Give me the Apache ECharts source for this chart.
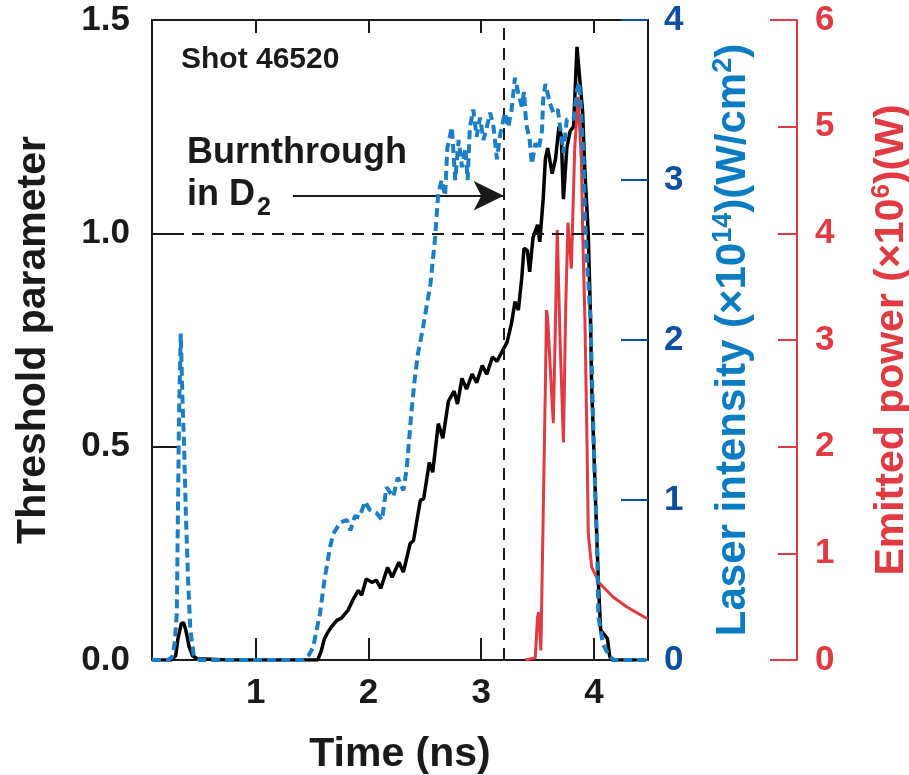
<!DOCTYPE html>
<html>
<head>
<meta charset="utf-8">
<script src="https://cdn.jsdelivr.net/npm/echarts@6/dist/echarts.min.js"></script>
<style>
  html, body { margin: 0; padding: 0; background: #fff; }
  #chart { width: 909px; height: 775px; }
</style>
</head>
<body>
<div id="chart"></div>
<script>
  // Threshold parameter (black, left axis)
  var threshTime = [0.08, 0.25, 0.29, 0.31, 0.34, 0.36, 0.38, 0.41, 0.44, 0.48, 0.6, 0.75, 1.2, 1.55, 1.58, 1.61, 1.64,
    1.67, 1.72, 1.76, 1.82, 1.86, 1.91, 1.94, 1.98, 2.03, 2.07, 2.11, 2.17, 2.21, 2.27, 2.31, 2.37, 2.40, 2.46, 2.49,
    2.54, 2.57, 2.62, 2.66, 2.71, 2.76, 2.79, 2.83, 2.87, 2.92, 2.96, 3.01, 3.05, 3.10, 3.14, 3.18, 3.23, 3.27, 3.30,
    3.33, 3.36, 3.38, 3.41, 3.43, 3.46, 3.50, 3.52, 3.55, 3.57, 3.59, 3.63, 3.66, 3.69, 3.71, 3.73, 3.76, 3.79, 3.82,
    3.85, 3.90, 3.92, 3.95, 3.97, 3.98, 4.01, 4.04, 4.06, 4.09, 4.12, 4.14, 4.16, 4.38];
  var threshValue = [0, 0, 0.01, 0.05, 0.085, 0.088, 0.07, 0.03, 0.01, 0.003, 0.002, 0, 0, 0, 0.02, 0.05, 0.065,
    0.077, 0.093, 0.098, 0.117, 0.14, 0.163, 0.152, 0.19, 0.182, 0.187, 0.168, 0.217, 0.194, 0.229, 0.206, 0.273, 0.28, 0.374, 0.378,
    0.463, 0.44, 0.554, 0.52, 0.607, 0.63, 0.6, 0.66, 0.635, 0.67, 0.65, 0.69, 0.67, 0.71, 0.70, 0.72, 0.745, 0.79, 0.84,
    0.82, 0.895, 0.965, 0.96, 0.91, 0.99, 1.02, 0.98, 1.08, 1.175, 1.2, 1.14, 1.175, 1.25, 1.23, 1.08, 1.2, 1.24, 1.25,
    1.437, 1.285, 1.145, 1.0, 0.8, 0.647, 0.41, 0.18, 0.07, 0.06, 0.05, 0.008, 0, 0];

  // Laser intensity (blue dotted, x1e14 W/cm2)
  var laserTime = [0.08, 0.22, 0.26, 0.28, 0.30, 0.31, 0.32, 0.335, 0.35, 0.365, 0.38, 0.40, 0.42, 0.45, 0.5, 1.42,
    1.47, 1.51, 1.57, 1.61, 1.66, 1.69, 1.75, 1.81, 1.84, 1.88, 1.92, 1.97, 2.01, 2.07, 2.12, 2.16, 2.22, 2.26, 2.31,
    2.34, 2.38, 2.41, 2.44, 2.48, 2.55, 2.59, 2.62, 2.65, 2.68, 2.70, 2.74, 2.77, 2.80, 2.83, 2.86, 2.88, 2.90, 2.93,
    2.96, 2.99, 3.02, 3.05, 3.08, 3.11, 3.14, 3.17, 3.21, 3.24, 3.27, 3.30, 3.33, 3.36, 3.38, 3.40, 3.43, 3.45, 3.48,
    3.51, 3.54, 3.55, 3.57, 3.61, 3.64, 3.68, 3.72, 3.73, 3.76, 3.79, 3.82, 3.85, 3.87, 3.89, 3.91, 3.92, 3.94, 3.97,
    4.0, 4.03, 4.04, 4.08, 4.14, 4.18, 4.48];
  var laserValue = [0, 0, 0.02, 0.1, 0.29, 0.92, 1.54, 2.04, 1.64, 1.33, 0.92, 0.5, 0.19, 0.03, 0, 0,
    0.03, 0.08, 0.29, 0.5, 0.71, 0.79, 0.86, 0.875, 0.81, 0.9, 0.89, 0.99, 0.94, 0.92, 0.875, 1.08, 1.02, 1.14, 1.06,
    1.2, 1.54, 1.75, 1.92, 2.06, 2.35, 2.63, 2.92, 3.0, 2.9, 3.2, 3.33, 3.0, 3.25, 3.08, 3.2, 3.0, 3.33, 3.44,
    3.27, 3.39, 3.25, 3.33, 3.42, 3.33, 3.13, 3.29, 3.42, 3.33, 3.44, 3.64, 3.54, 3.46, 3.55, 3.35, 3.25, 3.1, 3.23,
    3.19, 3.31, 3.5, 3.6, 3.48, 3.42, 3.44, 3.23, 3.17, 3.38, 3.38, 3.38, 3.56, 3.61, 3.39, 3.1, 2.79, 2.48, 2.14,
    1.31, 0.69, 0.27, 0.1, 0.02, 0, 0];

  // Emitted power (red, x1e6 W)
  var powerTime = [3.39, 3.48, 3.50, 3.51, 3.53, 3.55, 3.57, 3.58, 3.59, 3.62, 3.64, 3.66, 3.675, 3.70, 3.73, 3.75,
    3.77, 3.80, 3.83, 3.86, 3.89, 3.90, 3.92, 3.94, 3.95, 3.98, 4.05, 4.17, 4.29, 4.45, 4.48];
  var powerValue = [0, 0.02, 0.4, 0.45, 0.09, 1.34, 2.6, 3.28, 3.2, 2.6, 2.22, 3.21, 4.03, 3.0, 2.04, 3.3,
    4.1, 3.67, 4.8, 5.28, 4.66, 4.03, 3.21, 1.97, 1.19, 0.87, 0.72, 0.59, 0.5, 0.4, 0.39];

  var timeTicks = [1, 2, 3, 4];
  var burnthroughTime = 3.2;
  var thresholdLevel = 1.0;
  var arrowStart = [1.33, 1.088];

  function pairs(xs, ys) {
    return xs.map(function (x, i) { return [x, ys[i]]; });
  }

  var FONT = '"Liberation Sans", Arial, Helvetica, sans-serif';
  var BLACK = '#1a1a1a';
  var BLUE_LINE = '#1a7fc6';
  var BLUE_TITLE = '#0a7cc4';
  var BLUE_LABEL = '#0b4ea2';
  var RED = '#e23a40';

  var chart = echarts.init(document.getElementById('chart'), null, { renderer: 'canvas' });

  var option = {
    animation: false,
    backgroundColor: '#fff',
    grid: { left: 152, top: 20, width: 496, height: 640, containLabel: false, outerBoundsMode: 'none' },
    xAxis: [{
      type: 'value', min: 0.08, max: 4.48, position: 'bottom',
      axisLine: { show: true, lineStyle: { color: BLACK, width: 2 } },
      axisTick: { show: true, inside: true, length: 22, lineStyle: { color: BLACK, width: 2 }, customValues: timeTicks },
      axisLabel: { customValues: timeTicks, color: BLACK, fontSize: 35, fontWeight: 'bold', fontFamily: FONT, margin: 16 },
      splitLine: { show: false },
      name: 'Time (ns)', nameLocation: 'middle', nameGap: 74,
      nameTextStyle: { color: BLACK, fontSize: 41, fontWeight: 'bold', fontFamily: FONT }
    }, {
      type: 'value', min: 0.08, max: 4.48, position: 'top',
      axisLine: { show: true, onZero: false, lineStyle: { color: BLACK, width: 2 } },
      axisTick: { show: true, inside: true, length: 13, lineStyle: { color: BLACK, width: 2 }, customValues: timeTicks },
      axisLabel: { show: true, customValues: timeTicks, formatter: function () { return ''; } },
      splitLine: { show: false }
    }],
    yAxis: [{
      type: 'value', min: 0, max: 1.5, interval: 0.5, position: 'left',
      axisLine: { show: true, onZero: false, lineStyle: { color: BLACK, width: 2 } },
      axisTick: { show: true, inside: true, length: 25, lineStyle: { color: BLACK, width: 2 } },
      axisLabel: { color: BLACK, fontSize: 35, fontWeight: 'bold', fontFamily: FONT, margin: 22,
        formatter: function (v) { return v.toFixed(1); } },
      splitLine: { show: false },
      name: 'Threshold parameter', nameLocation: 'middle', nameGap: 98, nameRotate: 90,
      nameTextStyle: { color: BLACK, fontSize: 41, fontWeight: 'bold', fontFamily: FONT }
    }, {
      type: 'value', min: 0, max: 4, interval: 1, position: 'right',
      axisLine: { show: true, onZero: false, lineStyle: { color: BLACK, width: 2 } },
      axisTick: { show: true, inside: true, length: 27, lineStyle: { color: BLUE_LABEL, width: 2 } },
      axisLabel: { color: BLUE_LABEL, fontSize: 35, fontWeight: 'bold', fontFamily: FONT, margin: 16 },
      splitLine: { show: false },
      name: '{a|Laser intensity (×10}{s|14}{a|)(W/cm}{s|2}{a|)}',
      nameLocation: 'middle', nameGap: 62, nameRotate: 90,
      nameTextStyle: {
        rich: {
          a: { color: BLUE_TITLE, fontSize: 42, fontWeight: 'bold', fontFamily: FONT, lineHeight: 46 },
          s: { color: BLUE_TITLE, fontSize: 27, fontWeight: 'bold', fontFamily: FONT, lineHeight: 22, verticalAlign: 'top' }
        }
      }
    }, {
      type: 'value', min: 0, max: 6, interval: 1, position: 'right', offset: 149,
      axisLine: { show: true, onZero: false, lineStyle: { color: RED, width: 2 } },
      axisTick: { show: true, inside: true, length: 19, lineStyle: { color: RED, width: 2 } },
      axisLabel: { color: RED, fontSize: 35, fontWeight: 'bold', fontFamily: FONT, margin: 18 },
      splitLine: { show: false },
      name: '{a|Emitted power (×10}{s|6}{a|)(W)}',
      nameLocation: 'middle', nameGap: 72, nameRotate: 90,
      nameTextStyle: {
        rich: {
          a: { color: RED, fontSize: 41, fontWeight: 'bold', fontFamily: FONT, lineHeight: 46 },
          s: { color: RED, fontSize: 26, fontWeight: 'bold', fontFamily: FONT, lineHeight: 22, verticalAlign: 'top' }
        }
      }
    }, {
      // longer end ticks of the red axis
      type: 'value', min: 0, max: 6, interval: 6, position: 'right', offset: 149,
      axisLine: { show: false, onZero: false },
      axisTick: { show: true, inside: true, length: 27, lineStyle: { color: RED, width: 2 } },
      axisLabel: { show: false },
      splitLine: { show: false }
    }],
    series: [{
      name: 'Threshold parameter', type: 'line', xAxisIndex: 0, yAxisIndex: 0,
      data: pairs(threshTime, threshValue), showSymbol: false, symbol: 'none', smooth: false,
      lineStyle: { color: '#000', width: 3.5 },
      z: 3,
      markLine: {
        silent: true, symbol: 'none', label: { show: false },
        lineStyle: { color: BLACK, width: 2, type: [12, 8] },
        data: [
          { yAxis: thresholdLevel },
          { xAxis: burnthroughTime },
          [{ coord: arrowStart, symbol: 'none', lineStyle: { type: 'solid', width: 2, color: BLACK } },
           { coord: [burnthroughTime, arrowStart[1]], symbol: 'arrow', symbolSize: [22, 30] }]
        ]
      }
    }, {
      name: 'Emitted power', type: 'line', xAxisIndex: 0, yAxisIndex: 2,
      data: pairs(powerTime, powerValue), showSymbol: false, symbol: 'none',
      lineStyle: { color: RED, width: 3 },
      z: 4
    }, {
      name: 'Laser intensity', type: 'line', xAxisIndex: 0, yAxisIndex: 1,
      data: pairs(laserTime, laserValue), showSymbol: false, symbol: 'none',
      lineStyle: { color: BLUE_LINE, width: 4, type: [9, 5] },
      z: 5
    }, {
      // keeps the top axis bound to a series
      name: 'top', type: 'line', xAxisIndex: 1, yAxisIndex: 0, data: [], silent: true
    }],
    graphic: [
      { type: 'text', x: 181, y: 60, style: { text: 'Shot 46520', font: 'bold 30px ' + FONT, fill: BLACK, verticalAlign: 'middle' } },
      { type: 'text', x: 187, y: 153, style: { text: 'Burnthrough', font: 'bold 36px ' + FONT, fill: BLACK, verticalAlign: 'middle' } },
      { type: 'text', x: 187, y: 195, style: { text: 'in D', font: 'bold 36px ' + FONT, fill: BLACK, verticalAlign: 'middle' } },
      { type: 'text', x: 257, y: 208, style: { text: '2', font: 'bold 25px ' + FONT, fill: BLACK, verticalAlign: 'middle' } }
    ]
  };

  chart.setOption(option);
</script>
</body>
</html>
